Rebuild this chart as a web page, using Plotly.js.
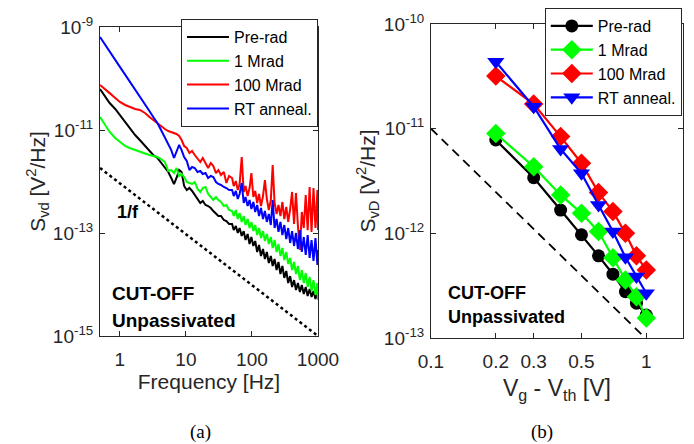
<!DOCTYPE html>
<html><head><meta charset="utf-8">
<script src="https://cdn.plot.ly/plotly-3.0.1.min.js"></script>
<style>html,body{margin:0;padding:0;background:#fff}#chart{width:694px;height:444px}</style>
</head><body><div id="chart"></div>
<script>
// ---------- Panel (a): noise spectra ----------
const freqHz = [0.5,0.6,0.7,0.85,1,1.2,1.4,1.7,2,2.4,2.8,3.2,3.7,4.2,4.8,5.4,6,6.6,7.2,7.9,8.6,9.4,10.3,11.3,12.4,13.6,15,16.5,18,19.8,21.7,23.8,26,28.5,31,34,37.5,41,45,
  50,53,57,61,65,70,75,80,86,92,98,105,112,120,128,137,147,157,168,180,193,206,220,236,252,270,289,309,331,354,379,405,434,464,497,532,569,609,652,698,747,799,855,915,980,1000];
const sPreRad = [6.25e-11,4.57e-11,3.34e-11,2.56e-11,1.95e-11,1.43e-11,1.09e-11,8.0e-12,6.4e-12,4.89e-12,3.91e-12,3.27e-12,2.86e-12,2.29e-12,1.83e-12,1.53e-12,1.17e-12,8.9e-13,1.17e-12,1.67e-12,1.53e-12,8.2e-13,6.84e-13,7.5e-13,6.55e-13,5.47e-13,4.37e-13,3.83e-13,4.18e-13,3.5e-13,3.34e-13,3.05e-13,2.67e-13,2.34e-13,2.14e-13,2.14e-13,1.79e-13,1.71e-13,1.50e-13,
  1.50e-13,1.14e-13,1.37e-13,1.00e-13,1.25e-13,8.75e-14,1.09e-13,7.32e-14,9.57e-14,6.12e-14,8.37e-14,5.60e-14,7.00e-14,4.28e-14,5.85e-14,3.58e-14,4.89e-14,3.13e-14,4.28e-14,2.62e-14,3.58e-14,2.29e-14,3.13e-14,1.91e-14,2.74e-14,1.60e-14,2.29e-14,1.34e-14,1.83e-14,1.07e-14,1.46e-14,8.96e-15,1.22e-14,7.83e-15,1.07e-14,7.16e-15,9.8e-15,6.55e-15,8.96e-15,5.99e-15,8.19e-15,5.73e-15,7.49e-15,5.24e-15,7.16e-15,5.48e-15];
const s1Mrad = [1.79e-11,1.25e-11,9.15e-12,7.0e-12,5.85e-12,4.89e-12,4.47e-12,4.08e-12,3.74e-12,3.42e-12,3.27e-12,3.13e-12,2.99e-12,2.74e-12,2.39e-12,1.60e-12,1.67e-12,1.46e-12,1.83e-12,1.28e-12,1.40e-12,1.22e-12,9.79e-13,9.36e-13,8.95e-13,9.79e-13,7.16e-13,6.26e-13,7.48e-13,7.83e-13,5.72e-13,5.00e-13,4.37e-13,5.00e-13,4.37e-13,4.00e-13,3.34e-13,3.50e-13,2.80e-13,
  2.67e-13,2.14e-13,2.80e-13,1.87e-13,2.45e-13,1.64e-13,2.14e-13,1.43e-13,1.87e-13,1.25e-13,1.64e-13,1.09e-13,1.43e-13,9.15e-14,1.25e-13,8.00e-14,1.09e-13,7.00e-14,9.57e-14,6.12e-14,8.37e-14,5.12e-14,7.32e-14,4.28e-14,6.12e-14,3.58e-14,5.12e-14,2.99e-14,4.28e-14,2.50e-14,3.27e-14,1.91e-14,2.74e-14,1.60e-14,2.29e-14,1.22e-14,1.91e-14,1.07e-14,1.67e-14,8.96e-15,1.40e-14,7.49e-15,1.22e-14,6.26e-15,1.07e-14,5.0e-15];
const s100Mrad = [7.5e-11,6.25e-11,5.2e-11,4.18e-11,3.5e-11,3.06e-11,2.8e-11,2.56e-11,2.45e-11,2.14e-11,1.79e-11,1.56e-11,1.37e-11,1.20e-11,1.045e-11,9.56e-12,9.15e-12,8.75e-12,8.37e-12,7.65e-12,6.4e-12,4.89e-12,4.47e-12,3.57e-12,3.91e-12,3.27e-12,2.86e-12,2.39e-12,2.86e-12,2.19e-12,1.83e-12,2.29e-12,2.00e-12,1.46e-12,1.67e-12,1.34e-12,1.53e-12,9.36e-13,1.28e-12,
  1.17e-12,8.18e-13,1.02e-12,6.84e-13,8.95e-13,2.99e-12,6.26e-13,8.18e-13,5.23e-13,7.48e-13,1.46e-12,5.00e-13,6.54e-13,3.83e-13,5.72e-13,3.34e-13,5.23e-13,1.07e-12,4.57e-13,2.80e-13,4.37e-13,2.09e-12,3.83e-13,2.34e-13,3.50e-13,2.14e-13,4.00e-13,1.87e-13,3.20e-13,1.64e-13,2.92e-13,6.26e-13,1.50e-13,5.98e-13,1.37e-13,4.68e-14,2.56e-13,1.25e-13,5.47e-13,1.14e-13,7.83e-13,1.05e-13,7.48e-13,1.25e-13,6.84e-13,1.14e-13];
const sRTanneal = [6.4e-10,4.57e-10,3.36e-10,2.31e-10,1.68e-10,1.19e-10,8.93e-11,6.07e-11,4.44e-11,3.13e-11,2.34e-11,1.79e-11,1.37e-11,1.0e-11,7.32e-12,5.60e-12,4.08e-12,2.86e-12,3.74e-12,5.12e-12,4.08e-12,2.99e-12,2.50e-12,1.67e-12,1.91e-12,1.83e-12,1.53e-12,1.60e-12,1.40e-12,1.46e-12,1.17e-12,1.28e-12,1.22e-12,9.79e-13,8.95e-13,8.56e-13,7.83e-13,7.48e-13,6.84e-13,
  6.84e-13,5.23e-13,6.54e-13,4.57e-13,5.72e-13,9.36e-13,3.83e-13,5.00e-13,3.34e-13,4.37e-13,2.92e-13,4.00e-13,2.56e-13,3.50e-13,2.14e-13,3.06e-13,1.87e-13,2.67e-13,1.64e-13,2.34e-13,1.43e-13,4.37e-13,1.25e-13,1.87e-13,1.05e-13,1.64e-13,9.15e-14,1.43e-13,7.65e-14,1.25e-13,6.40e-14,1.09e-13,5.60e-14,1.00e-13,4.89e-14,1.14e-13,4.28e-14,8.37e-14,3.74e-14,9.15e-14,3.27e-14,7.32e-14,2.86e-14,8.00e-14,2.39e-14,4.68e-14];
const oneOverFRefF = [0.5, 1000];
const oneOverFRefS = [1.83e-12, 1e-15];

// ---------- Panel (b): noise vs overdrive ----------
const vOverdrive = [0.2,0.3,0.4,0.5,0.6,0.7,0.8,0.9,1.0];
const svdPreRad = [7.8e-12,3.4e-12,1.67e-12,9.7e-13,6.1e-13,4.07e-13,2.77e-13,2.15e-13,1.66e-13];
const svd1Mrad = [9.0e-12,4.33e-12,2.33e-12,1.56e-12,1.04e-12,5.86e-13,3.59e-13,2.48e-13,1.55e-13];
const svd100Mrad = [3.18e-11,1.72e-11,8.4e-12,4.68e-12,2.45e-12,1.62e-12,1.0e-12,6.1e-13,4.47e-13];
const svdRTanneal = [4.36e-11,1.62e-11,6.4e-12,3.75e-12,1.87e-12,1.04e-12,5.9e-13,3.86e-13,2.68e-13];
const slopeRefV = [0.1, 0.99];
const slopeRefS = [1e-11, 1e-13];

const seriesNames = ['Pre-rad','1 Mrad','100 Mrad','RT anneal.'];
const seriesColors = ['#000000','#00ff00','#ff0000','#0000ff'];
const seriesSymbols = ['circle','diamond','diamond','triangle-down'];
const leftXTickVals = [1,10,100,1000];
const leftXTickText = ['1','10','100','1000'];
const leftYTickVals = [1e-15,1e-13,1e-11,1e-9];
const leftYTickText = ['10<sup>-15</sup>','10<sup>-13</sup>','10<sup>-11</sup>','10<sup>-9</sup>'];
const rightXTickVals = [0.1,0.2,0.3,0.5,1];
const rightXTickText = ['0.1','0.2','0.3','0.5','1'];
const rightYTickVals = [1e-13,1e-12,1e-11,1e-10];
const rightYTickText = ['10<sup>-13</sup>','10<sup>-12</sup>','10<sup>-11</sup>','10<sup>-10</sup>'];

const spectra = [sPreRad, s1Mrad, s100Mrad, sRTanneal];
const svd = [svdPreRad, svd1Mrad, svd100Mrad, svdRTanneal];
const markerSizes = [13, 15, 15, 15];

const traces = [];
spectra.forEach((s, i) => traces.push({
  x: freqHz, y: s, type: 'scatter', mode: 'lines', name: seriesNames[i],
  line: {color: seriesColors[i], width: 2}, xaxis: 'x', yaxis: 'y', legend: 'legend'
}));
traces.push({x: oneOverFRefF, y: oneOverFRefS, type: 'scatter', mode: 'lines', showlegend: false,
  line: {color: '#000', width: 2.5, dash: 'dot'}, xaxis: 'x', yaxis: 'y'});
traces.push({x: slopeRefV, y: slopeRefS, type: 'scatter', mode: 'lines', showlegend: false,
  line: {color: '#000', width: 1.8, dash: '9px,6px'}, xaxis: 'x2', yaxis: 'y2'});
svd.forEach((s, i) => traces.push({
  x: vOverdrive, y: s, type: 'scatter', mode: 'lines+markers', name: seriesNames[i],
  line: {color: seriesColors[i], width: 2.2},
  marker: {symbol: seriesSymbols[i], size: markerSizes[i], color: seriesColors[i]},
  xaxis: 'x2', yaxis: 'y2', legend: 'legend2'
}));

const FF = 'Liberation Sans, Arial, sans-serif';
const TXT = '#262626';
const ax = (o) => Object.assign({
  type: 'log', showline: true, mirror: 'ticks', linecolor: '#262626', linewidth: 1,
  ticks: 'inside', ticklen: 5, tickcolor: '#262626', showgrid: false, zeroline: false,
  tickfont: {family: FF, size: 19, color: TXT}, tickmode: 'array'
}, o);

const layout = {
  width: 694, height: 444, margin: {l: 0, r: 0, t: 0, b: 0},
  paper_bgcolor: '#fff', plot_bgcolor: '#fff',
  font: {family: FF, color: TXT},
  xaxis: ax({domain: [0.1441, 0.4582], range: [Math.log10(0.5), 3], anchor: 'y',
    tickvals: leftXTickVals, ticktext: leftXTickText, ticklabelstandoff: 6,
    title: {text: 'Frequency [Hz]', font: {family: FF, size: 21, color: TXT}, standoff: 3}}),
  yaxis: ax({domain: [0.2432, 0.9392], range: [-15, -9], anchor: 'x',
    tickvals: leftYTickVals, ticktext: leftYTickText, ticklabelstandoff: 2,
    title: {text: 'S<sub>vd</sub> [V<sup>2</sup>/Hz]', font: {family: FF, size: 21, color: TXT}, standoff: 1}}),
  xaxis2: ax({domain: [0.621, 0.984], range: [-1, 0.17], anchor: 'y2',
    tickvals: rightXTickVals, ticktext: rightXTickText, ticklabelstandoff: 6,
    title: {text: 'V<sub>g</sub> - V<sub>th</sub> [V]', font: {family: FF, size: 23, color: TXT}, standoff: 9}}),
  yaxis2: ax({domain: [0.2387, 0.9459], range: [-13, -10], anchor: 'x2',
    tickvals: rightYTickVals, ticktext: rightYTickText, ticklabelstandoff: 2,
    title: {text: 'S<sub>vD</sub> [V<sup>2</sup>/Hz]', font: {family: FF, size: 21, color: TXT}, standoff: 2}}),
  legend: {x: 0.2608, y: 0.957, xanchor: 'left', yanchor: 'top', bgcolor: '#fff',
    bordercolor: '#262626', borderwidth: 1, font: {family: FF, size: 16, color: '#000'},
    itemwidth: 42, tracegroupgap: 0},
  legend2: {x: 0.785, y: 0.982, xanchor: 'left', yanchor: 'top', bgcolor: '#fff',
    bordercolor: '#262626', borderwidth: 1, font: {family: FF, size: 16, color: '#000'},
    itemwidth: 42, tracegroupgap: 0},
  annotations: [
    {text: '<b>1/f</b>', xref: 'paper', yref: 'paper', x: 0.1657, y: 0.5225, xanchor: 'left', yanchor: 'middle', showarrow: false, font: {family: FF, size: 18, color: '#000'}},
    {text: '<b>CUT-OFF</b>', xref: 'paper', yref: 'paper', x: 0.1585, y: 0.340, xanchor: 'left', yanchor: 'middle', showarrow: false, font: {family: FF, size: 19, color: '#000'}},
    {text: '<b>Unpassivated</b>', xref: 'paper', yref: 'paper', x: 0.1585, y: 0.279, xanchor: 'left', yanchor: 'middle', showarrow: false, font: {family: FF, size: 19, color: '#000'}},
    {text: '<b>CUT-OFF</b>', xref: 'paper', yref: 'paper', x: 0.6427, y: 0.340, xanchor: 'left', yanchor: 'middle', showarrow: false, font: {family: FF, size: 18, color: '#000'}},
    {text: '<b>Unpassivated</b>', xref: 'paper', yref: 'paper', x: 0.6427, y: 0.287, xanchor: 'left', yanchor: 'middle', showarrow: false, font: {family: FF, size: 18, color: '#000'}},
    {text: '(a)', xref: 'paper', yref: 'paper', x: 0.2882, y: 0.0, xanchor: 'center', yanchor: 'bottom', showarrow: false, borderpad: 0, font: {family: 'Liberation Serif, Times New Roman, serif', size: 19, color: '#000'}},
    {text: '(b)', xref: 'paper', yref: 'paper', x: 0.781, y: 0.0, xanchor: 'center', yanchor: 'bottom', showarrow: false, borderpad: 0, font: {family: 'Liberation Serif, Times New Roman, serif', size: 19, color: '#000'}}
  ]
};

Plotly.newPlot('chart', traces, layout, {staticPlot: true, displayModeBar: false});
</script>
</body></html>
